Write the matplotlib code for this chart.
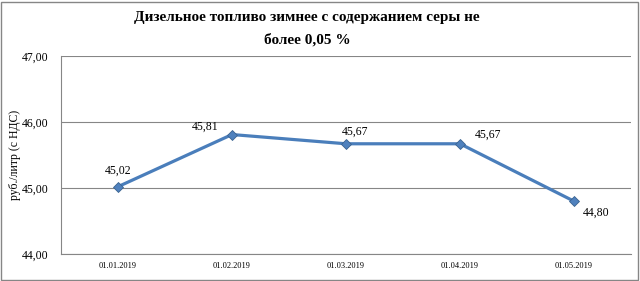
import numpy as np
import matplotlib
matplotlib.use('Agg')
import matplotlib.pyplot as plt

# данные
dates = ['01.01.2019', '01.02.2019', '01.03.2019', '01.04.2019', '01.05.2019']
prices = [45.02, 45.81, 45.67, 45.67, 44.80]
yticks = [44.0, 45.0, 46.0, 47.0]
title = 'Дизельное топливо зимнее с содержанием серы не\nболее 0,05 %'
ylabel = 'руб./литр (с НДС)'

plt.rcParams['font.family'] = ['Liberation Serif', 'DejaVu Serif']

fig = plt.figure(figsize=(6.4, 2.81), dpi=100)
ax = fig.add_axes([61 / 640, 1 - 254 / 281, (631 - 61) / 640, (254 - 56) / 281])

x = np.arange(len(dates))
ax.plot(x, prices, color='#4A7EBB', lw=2.3, marker='D', ms=5.5,
        markerfacecolor='#4F81BD', markeredgecolor='#3A6390', markeredgewidth=0.6, zorder=3)

# подписи значений (смещения в пунктах)
offsets = [(0, 7, 'center', 'bottom'), (-10, 1, 'right', 'bottom'), (-3, 4, 'left', 'bottom'),
           (11, 2, 'left', 'bottom'), (6, -4, 'left', 'top')]
for xi, yi, (dx, dy, ha, va) in zip(x, prices, offsets):
    ax.annotate(('%.2f' % yi).replace('.', ','), (xi, yi), xytext=(dx, dy),
                textcoords='offset points', ha=ha, va=va, fontsize=8.5)

ax.set_xlim(-0.5, len(dates) - 0.5)
ax.set_ylim(44, 47)
ax.set_yticks(yticks)
ax.set_yticklabels([('%.2f' % v).replace('.', ',') for v in yticks], fontsize=8.5)
ax.set_xticks(x)
ax.set_xticklabels(dates, fontsize=6)
ax.tick_params(axis='y', length=0, pad=9)
ax.tick_params(axis='x', length=0, pad=6)
ax.yaxis.grid(True, color='#868686', lw=0.8)
ax.set_axisbelow(True)
for s in ['top', 'right']:
    ax.spines[s].set_visible(False)
for s in ['left', 'bottom']:
    ax.spines[s].set_color('#868686')
    ax.spines[s].set_linewidth(0.8)

ax.set_ylabel(ylabel, fontsize=8.5)
ax.yaxis.set_label_coords(-0.07, 0.5)

fig.text(0.48, 0.96, title, ha='center', va='top', fontsize=11, fontweight='bold',
         linespacing=1.85)

# рамка вокруг рисунка
fig.patches.append(plt.Rectangle((0.002, 0.004), 0.995, 0.99, transform=fig.transFigure,
                                 fill=False, edgecolor='#868686', lw=1))

fig.savefig('out.png', dpi=100)
